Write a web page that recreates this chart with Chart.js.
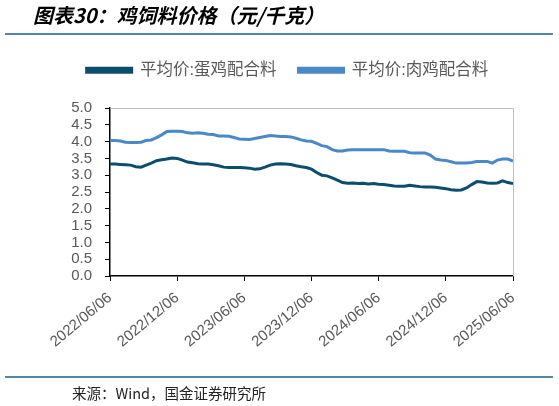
<!DOCTYPE html>
<html>
<head>
<meta charset="utf-8">
<script src="https://cdn.jsdelivr.net/npm/chart.js@4.4.1/dist/chart.umd.min.js"></script>
<style>
  html, body { margin: 0; padding: 0; background: #fff; }
  #wrap { width: 559px; height: 406px; position: relative; }
</style>
</head>
<body>
<div id="wrap"><canvas id="feedChart"></canvas></div>
<script>
// biweekly points, 2022/06/06 .. 2025/06/06 (13 points per half year)
const tickLabels = ['2022/06/06', '2022/12/06', '2023/06/06', '2023/12/06', '2024/06/06', '2024/12/06', '2025/06/06'];
const seriesNames = ['平均价:蛋鸡配合料', '平均价:肉鸡配合料'];

const layerFeed = [
  3.33, 3.33, 3.32, 3.31, 3.30, 3.25, 3.24, 3.30, 3.36, 3.43, 3.46, 3.48, 3.51,
  3.50, 3.45, 3.39, 3.37, 3.34, 3.33, 3.33, 3.31, 3.28, 3.24, 3.23, 3.23, 3.23,
  3.22, 3.21, 3.18, 3.19, 3.24, 3.30, 3.33, 3.34, 3.33, 3.32, 3.28, 3.25, 3.23,
  3.18, 3.08, 3.00, 2.98, 2.92, 2.85, 2.78, 2.76, 2.77, 2.75, 2.76, 2.74, 2.75,
  2.73, 2.72, 2.70, 2.68, 2.67, 2.67, 2.70, 2.68, 2.66, 2.65, 2.65, 2.64, 2.62,
  2.60, 2.57, 2.55, 2.56, 2.62, 2.72, 2.81, 2.80, 2.77, 2.76, 2.77, 2.83, 2.78,
  2.75
];

const broilerFeed = [
  4.03, 4.03, 4.02, 3.98, 3.97, 3.97, 3.98, 4.03, 4.05, 4.12, 4.20, 4.30, 4.31,
  4.31, 4.30, 4.26, 4.25, 4.26, 4.25, 4.22, 4.21, 4.17, 4.17, 4.16, 4.12, 4.08,
  4.07, 4.06, 4.09, 4.12, 4.15, 4.18, 4.17, 4.15, 4.15, 4.14, 4.10, 4.05, 4.02,
  4.01, 3.95, 3.88, 3.85, 3.76, 3.72, 3.72, 3.75, 3.76, 3.76, 3.76, 3.76, 3.76,
  3.76, 3.76, 3.72, 3.71, 3.71, 3.71, 3.67, 3.66, 3.66, 3.66, 3.60, 3.48, 3.45,
  3.44, 3.40, 3.36, 3.36, 3.36, 3.38, 3.41, 3.41, 3.41, 3.36, 3.45, 3.48, 3.48,
  3.42
];

const toPoints = arr => arr.map((v, i) => ({ x: i, y: v }));

const FONT = "'Liberation Sans', 'Noto Sans CJK SC', sans-serif";

const decor = {
  id: 'decor',
  beforeDraw(chart) {
    const ctx = chart.ctx;
    ctx.save();
    ctx.fillStyle = '#fff';
    ctx.fillRect(0, 0, chart.width, chart.height);
    ctx.restore();
  },
  beforeDatasetsDraw(chart) {
    // grey frame on top and right of the plot
    const { ctx, chartArea: a } = chart;
    ctx.save();
    ctx.strokeStyle = '#bfbfbf';
    ctx.lineWidth = 1;
    ctx.beginPath();
    ctx.moveTo(a.left, a.top + 0.5);
    ctx.lineTo(a.right + 0.5, a.top + 0.5);
    ctx.lineTo(a.right + 0.5, a.bottom);
    ctx.stroke();
    ctx.restore();
  },
  afterDraw(chart) {
    const ctx = chart.ctx;
    ctx.save();
    ctx.fillStyle = '#000';
    ctx.textBaseline = 'middle';
    ctx.font = "italic bold 20px 'Noto Sans CJK SC', sans-serif";
    ctx.fillText('图表30：鸡饲料价格（元/千克）', 33, 15);

    ctx.strokeStyle = '#1f5f8b';
    ctx.lineWidth = 1.5;
    ctx.beginPath();
    ctx.moveTo(5, 34);
    ctx.lineTo(553, 34);
    ctx.moveTo(5, 377);
    ctx.lineTo(553, 377);
    ctx.stroke();

    ctx.fillStyle = '#222';
    ctx.font = "14.5px 'Noto Sans CJK SC', sans-serif";
    ctx.fillText('来源：Wind，国金证券研究所', 72, 393);
    ctx.restore();
  }
};

new Chart(document.getElementById('feedChart'), {
  type: 'line',
  data: {
    datasets: [
      {
        label: seriesNames[0],
        data: toPoints(layerFeed),
        borderColor: '#0c4d6e',
        backgroundColor: '#0c4d6e',
        borderWidth: 3,
        pointRadius: 0,
      },
      {
        label: seriesNames[1],
        data: toPoints(broilerFeed),
        borderColor: '#4a88c7',
        backgroundColor: '#4a88c7',
        borderWidth: 3,
        pointRadius: 0,
      }
    ]
  },
  options: {
    responsive: true,
    maintainAspectRatio: false,
    animation: false,
    layout: { padding: { top: 40, right: 46, left: 62, bottom: 0 } },
    plugins: {
      legend: {
        position: 'top',
        labels: {
          boxWidth: 45,
          boxHeight: 4,
          padding: 22,
          color: '#595959',
          font: { family: FONT, size: 16.5 },
        },
      },
      // empty title used as a gap between legend and plot
      title: {
        display: true,
        text: '',
        weight: 500,
        padding: 0,
        font: { size: 19.5, lineHeight: 1 },
      },
      tooltip: { enabled: false },
    },
    scales: {
      x: {
        type: 'linear',
        min: 0,
        max: 78,
        ticks: {
          stepSize: 13,
          minRotation: 40,
          maxRotation: 40,
          padding: 8,
          color: '#595959',
          font: { family: FONT, size: 15 },
          callback: v => tickLabels[v / 13],
        },
        grid: { drawOnChartArea: false, tickLength: 5, color: '#000' },
        border: { color: '#000', width: 1.5 },
        afterFit: s => { s.height = 130; },
      },
      y: {
        min: 0,
        max: 5,
        ticks: {
          stepSize: 0.5,
          autoSkip: false,
          padding: 13,
          color: '#595959',
          font: { family: FONT, size: 15 },
          callback: v => v.toFixed(1),
        },
        grid: { drawOnChartArea: false, tickLength: 5, color: '#000' },
        border: { color: '#000', width: 1.5 },
        afterFit: s => { s.width = 48; },
      }
    }
  },
  plugins: [decor]
});
</script>
</body>
</html>
